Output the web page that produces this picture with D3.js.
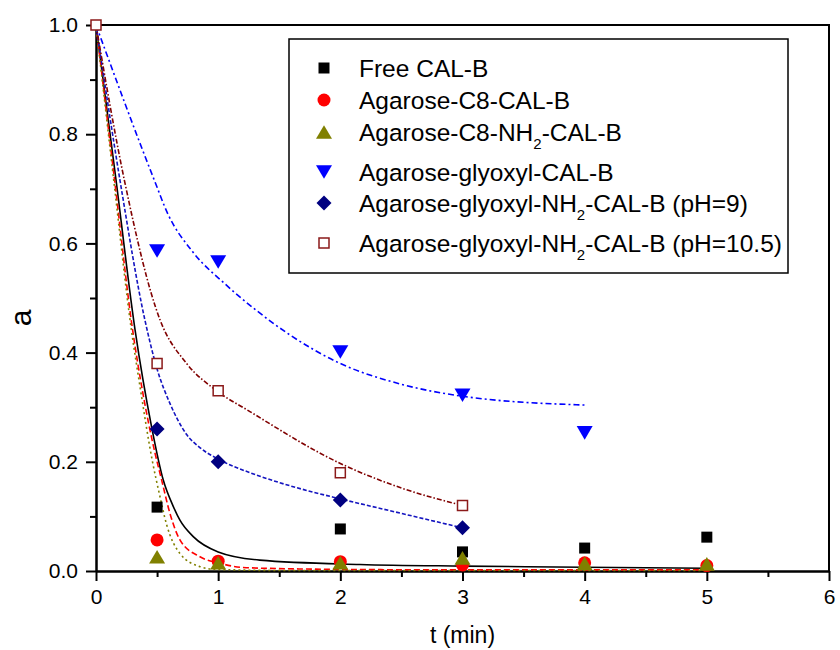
<!DOCTYPE html>
<html>
<head>
<meta charset="utf-8">
<script src="https://cdn.jsdelivr.net/npm/d3@7"></script>
<style>
  body { margin: 0; background: #fff; }
  svg { display: block; font-family: "Liberation Sans", Arial, sans-serif; }
</style>
</head>
<body>
<div id="chart"></div>
<script>
// measured points, t (min) and residual activity a
const freeT = [0.5, 2, 3, 4, 5];
const freeA = [0.117, 0.077, 0.035, 0.042, 0.062];
const c8T = [0.5, 1, 2, 3, 4, 5];
const c8A = [0.057, 0.018, 0.017, 0.011, 0.015, 0.010];
const c8nh2T = [0.5, 1, 2, 3, 4, 5];
const c8nh2A = [0.026, 0.015, 0.015, 0.024, 0.014, 0.013];
const glyT = [0.5, 1, 2, 3, 4];
const glyA = [0.586, 0.566, 0.401, 0.322, 0.253];
const glyNh9T = [0.5, 1, 2, 3];
const glyNh9A = [0.26, 0.20, 0.13, 0.079];
const glyNh105T = [0, 0.5, 1, 2, 3];
const glyNh105A = [1.0, 0.38, 0.33, 0.18, 0.12];

// fitted curves
const fitFreeT = [0, 0.164, 0.32, 0.455, 0.55, 0.633, 0.687, 0.796, 1.0, 1.34, 2.16, 3, 4, 5];
const fitFreeA = [1, 0.716, 0.441, 0.264, 0.167, 0.118, 0.093, 0.063, 0.035, 0.02, 0.012, 0.009, 0.007, 0.005];
const fitC8T = [0, 0.15, 0.30, 0.374, 0.483, 0.537, 0.606, 0.687, 0.851, 1.015, 1.23, 2, 3, 4, 5];
const fitC8A = [1, 0.72, 0.441, 0.338, 0.216, 0.167, 0.105, 0.057, 0.026, 0.014, 0.006, 0.003, 0.002, 0.002, 0.002];
const fitC8nh2T = [0, 0.145, 0.29, 0.36, 0.46, 0.52, 0.578, 0.687, 0.851, 0.98, 1.5, 2, 3, 4, 5];
const fitC8nh2A = [1, 0.716, 0.441, 0.338, 0.203, 0.14, 0.085, 0.032, 0.008, 0.003, 0.001, 0.001, 0.001, 0.001, 0.001];
const fitGlyT = [0, 0.477, 0.586, 0.79, 1.06, 1.32, 1.59, 2.0, 2.5, 3.0, 4.0];
const fitGlyA = [1, 0.716, 0.655, 0.585, 0.525, 0.476, 0.432, 0.38, 0.342, 0.32, 0.304];
const fitNh9T = [0, 0.196, 0.40, 0.5, 0.605, 0.742, 0.85, 1.0, 1.26, 1.5, 2.0, 2.32, 3.0];
const fitNh9A = [1, 0.716, 0.46, 0.37, 0.307, 0.25, 0.226, 0.205, 0.18, 0.162, 0.132, 0.115, 0.079];
const fitNh105T = [0, 0.232, 0.524, 0.742, 0.988, 1.26, 2.0, 2.5, 3.0];
const fitNh105A = [1, 0.716, 0.46, 0.38, 0.33, 0.292, 0.197, 0.152, 0.12];

const xTicks = [0, 1, 2, 3, 4, 5, 6];
const yTicks = [0, 0.2, 0.4, 0.6, 0.8, 1.0];

const width = 840, height = 650;
const plotLeft = 96, plotRight = 829, plotTop = 25, plotBottom = 571;

const svg = d3.select('#chart').append('svg')
  .attr('width', width)
  .attr('height', height);

const x = d3.scaleLinear().domain([0, 6]).range([plotLeft, plotRight]);
const y = d3.scaleLinear().domain([0, 1]).range([plotBottom, plotTop]);

function zip(ts, as) {
  return ts.map((t, i) => [t, as[i]]);
}

// marker paths centred on their box
function square(s) { const h = s / 2; return `M${-h},${-h}H${h}V${h}H${-h}Z`; }
function circle(s) { const r = s / 2; return `M${r},0A${r},${r} 0 1,1 ${-r},0A${r},${r} 0 1,1 ${r},0Z`; }
function triUp(s) { const h = s * 0.85 / 2; return `M0,${-h}L${s / 2},${h}L${-s / 2},${h}Z`; }
function triDown(s) { const h = s * 0.85 / 2; return `M0,${h}L${s / 2},${-h}L${-s / 2},${-h}Z`; }
function diamond(s) { const h = s / 2; return `M0,${-h}L${h},0L0,${h}L${-h},0Z`; }

const series = [
  { name: ['Free CAL-B'], t: freeT, a: freeA, path: square(11), fill: '#000', stroke: 'none',
    fitT: fitFreeT, fitA: fitFreeA, color: '#000', dash: null },
  { name: ['Agarose-C8-CAL-B'], t: c8T, a: c8A, path: circle(13), fill: '#ff0000', stroke: 'none',
    fitT: fitC8T, fitA: fitC8A, color: '#ff0000', dash: '6,3' },
  { name: ['Agarose-C8-NH', '2', '-CAL-B'], t: c8nh2T, a: c8nh2A, path: triUp(16), fill: '#808000', stroke: 'none',
    fitT: fitC8nh2T, fitA: fitC8nh2A, color: '#808000', dash: '2,3' },
  { name: ['Agarose-glyoxyl-CAL-B'], t: glyT, a: glyA, path: triDown(16), fill: '#0000ff', stroke: 'none',
    fitT: fitGlyT, fitA: fitGlyA, color: '#0000ff', dash: '6,3,2,3' },
  { name: ['Agarose-glyoxyl-NH', '2', '-CAL-B (pH=9)'], t: glyNh9T, a: glyNh9A, path: diamond(15), fill: '#000080', stroke: 'none',
    fitT: fitNh9T, fitA: fitNh9A, color: '#1414c0', dash: '4,2' },
  { name: ['Agarose-glyoxyl-NH', '2', '-CAL-B (pH=10.5)'], t: glyNh105T, a: glyNh105A, path: square(10), fill: '#fff', stroke: '#8b1a1a',
    fitT: fitNh105T, fitA: fitNh105A, color: '#800000', dash: '5,2,1.5,2' }
];

// axes
const yAxis = svg.append('g')
  .attr('transform', `translate(${plotLeft},0)`)
  .call(d3.axisLeft(y).tickValues(yTicks).tickFormat(d3.format('.1f')).tickSize(10).tickSizeOuter(0).tickPadding(8));
yAxis.append('g')
  .call(d3.axisLeft(y).tickValues([0.1, 0.3, 0.5, 0.7, 0.9]).tickFormat('').tickSize(6).tickSizeOuter(0));

const xAxis = svg.append('g')
  .attr('transform', `translate(0,${plotBottom})`)
  .call(d3.axisBottom(x).tickValues(xTicks).tickFormat(d3.format('d')).tickSize(10).tickSizeOuter(0).tickPadding(8));
xAxis.append('g')
  .call(d3.axisBottom(x).tickValues([0.5, 1.5, 2.5, 3.5, 4.5, 5.5]).tickFormat('').tickSize(6).tickSizeOuter(0));

svg.selectAll('.domain, .tick line').attr('stroke', '#000').attr('stroke-width', 2);
svg.selectAll('.tick text').attr('font-size', 21).attr('fill', '#000')
  .attr('font-family', '"Liberation Sans", Arial, sans-serif');

// frame top and right
svg.append('path')
  .attr('d', `M${plotLeft},${plotTop}H${plotRight}V${plotBottom}`)
  .attr('fill', 'none')
  .attr('stroke', '#000')
  .attr('stroke-width', 2);

svg.append('text')
  .attr('x', (plotLeft + plotRight) / 2)
  .attr('y', 643)
  .attr('text-anchor', 'middle')
  .attr('font-size', 23)
  .text('t (min)');

svg.append('text')
  .attr('transform', 'translate(31,318) rotate(-90)')
  .attr('text-anchor', 'middle')
  .attr('font-size', 30)
  .text('a');

// fitted curves
const line = d3.line()
  .x((d) => x(d[0]))
  .y((d) => y(d[1]))
  .curve(d3.curveMonotoneX);

svg.append('g').selectAll('path')
  .data(series)
  .enter()
  .append('path')
    .attr('d', (s) => line(zip(s.fitT, s.fitA)))
    .attr('fill', 'none')
    .attr('stroke', (s) => s.color)
    .attr('stroke-width', 1.6)
    .attr('stroke-dasharray', (s) => s.dash);

// markers
series.forEach((s) => {
  svg.append('g').selectAll('path')
    .data(zip(s.t, s.a))
    .enter()
    .append('path')
      .attr('transform', (d) => `translate(${x(d[0])},${y(d[1])})`)
      .attr('d', s.path)
      .attr('fill', s.fill)
      .attr('stroke', s.stroke)
      .attr('stroke-width', 1.5);
});

// legend
const legend = svg.append('g');
legend.append('rect')
  .attr('x', 289).attr('y', 39)
  .attr('width', 499).attr('height', 234)
  .attr('fill', '#fff')
  .attr('stroke', '#000')
  .attr('stroke-width', 1.5);

const rowY = [68, 100, 132, 172, 203, 243];

series.forEach((s, i) => {
  legend.append('path')
    .attr('transform', `translate(324,${rowY[i]})`)
    .attr('d', s.path)
    .attr('fill', s.fill)
    .attr('stroke', s.stroke)
    .attr('stroke-width', 1.5);

  const txt = legend.append('text')
    .attr('x', 359)
    .attr('y', rowY[i] + 9)
    .attr('font-size', 24.5);
  txt.append('tspan').text(s.name[0]);
  if (s.name.length > 1) {
    txt.append('tspan').attr('font-size', 15).attr('dy', 8).text(s.name[1]);
    txt.append('tspan').attr('dy', -8).text(s.name[2]);
  }
});
</script>
</body>
</html>
